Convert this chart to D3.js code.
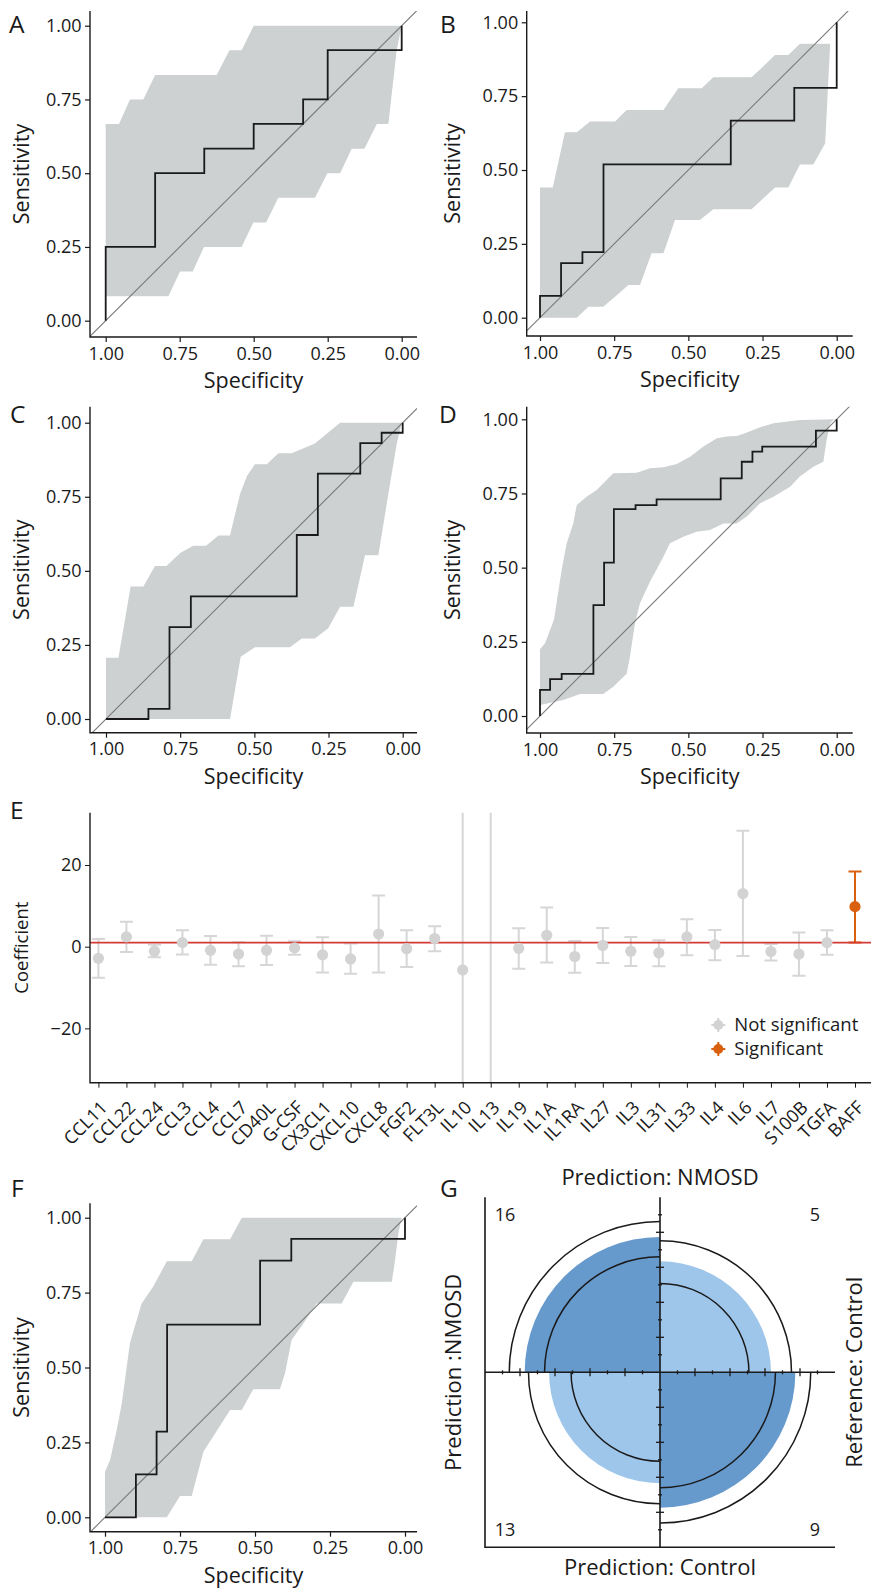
<!DOCTYPE html>
<html>
<head>
<meta charset="utf-8">
<script src="https://cdn.jsdelivr.net/npm/d3@7"></script>
<style>
  body { margin: 0; background: #fff; }
  svg { display: block; font-family: "Open Sans", sans-serif; }
</style>
</head>
<body>
<svg id="fig" width="871" height="1594"></svg>
<script>
// ---- ROC curves (specificity / sensitivity vertices) and 95% CI bands ----
const rocTicks = [1, 0.75, 0.5, 0.25, 0];

const aRocSpec = [1, 1, 0.833, 0.833, 0.667, 0.667, 0.5, 0.5, 0.333, 0.333, 0.25, 0.25, 0, 0];
const aRocSens = [0, 0.25, 0.25, 0.5, 0.5, 0.583, 0.583, 0.667, 0.667, 0.75, 0.75, 0.917, 0.917, 1];
const aUpSpec = [1, 0.955, 0.918, 0.873, 0.833, 0.625, 0.582, 0.541, 0.5, 0];
const aUpSens = [0.667, 0.667, 0.75, 0.75, 0.833, 0.833, 0.917, 0.917, 1, 1];
const aLoSpec = [1, 0.788, 0.749, 0.706, 0.668, 0.541, 0.501, 0.458, 0.417, 0.293, 0.251, 0.208, 0.169, 0.126, 0.084, 0.045, 0.017, 0];
const aLoSens = [0.083, 0.083, 0.167, 0.167, 0.25, 0.25, 0.333, 0.333, 0.417, 0.417, 0.5, 0.5, 0.583, 0.583, 0.667, 0.667, 0.917, 1];

const bRocSpec = [1, 1, 0.929, 0.929, 0.857, 0.857, 0.786, 0.786, 0.357, 0.357, 0.143, 0.143, 0, 0];
const bRocSens = [0, 0.074, 0.074, 0.185, 0.185, 0.222, 0.222, 0.519, 0.519, 0.667, 0.667, 0.778, 0.778, 1];
const bUpSpec = [1, 0.957, 0.916, 0.876, 0.831, 0.747, 0.708, 0.584, 0.534, 0.455, 0.416, 0.287, 0.247, 0.208, 0.163, 0.124, 0.022];
const bUpSens = [0.441, 0.441, 0.628, 0.628, 0.664, 0.664, 0.703, 0.703, 0.777, 0.777, 0.814, 0.814, 0.851, 0.889, 0.889, 0.927, 0.927];
const bLoSpec = [1, 0.876, 0.837, 0.787, 0.747, 0.702, 0.663, 0.624, 0.584, 0.545, 0.461, 0.416, 0.287, 0.247, 0.208, 0.163, 0.124, 0.079, 0.039, 0.022];
const bLoSens = [0, 0, 0.037, 0.037, 0.071, 0.111, 0.111, 0.218, 0.218, 0.331, 0.331, 0.367, 0.367, 0.404, 0.441, 0.441, 0.519, 0.519, 0.59, 0.927];

const cRocSpec = [1, 0.857, 0.857, 0.786, 0.786, 0.714, 0.714, 0.357, 0.357, 0.286, 0.286, 0.143, 0.143, 0.071, 0.071, 0, 0];
const cRocSens = [0, 0, 0.034, 0.034, 0.310, 0.310, 0.414, 0.414, 0.621, 0.621, 0.828, 0.828, 0.931, 0.931, 0.966, 0.966, 1];
const cUpSpec = [1, 0.958, 0.917, 0.874, 0.835, 0.796, 0.75, 0.706, 0.663, 0.621, 0.582, 0.57, 0.548, 0.525, 0.498, 0.458, 0.419, 0.374, 0.296, 0.211, 0];
const cUpSens = [0.207, 0.207, 0.447, 0.447, 0.516, 0.516, 0.56, 0.585, 0.585, 0.619, 0.619, 0.67, 0.76, 0.82, 0.86, 0.86, 0.897, 0.897, 0.93, 1, 1];
const cLoSpec = [1, 0.582, 0.546, 0.498, 0.38, 0.34, 0.296, 0.251, 0.211, 0.166, 0.127, 0.082, 0.05, 0.02, 0.003];
const cLoSens = [0, 0, 0.21, 0.242, 0.242, 0.272, 0.272, 0.306, 0.379, 0.379, 0.553, 0.553, 0.75, 0.93, 1];

const dRocSpec = [1, 1, 0.966, 0.966, 0.927, 0.927, 0.82, 0.82, 0.784, 0.784, 0.751, 0.751, 0.678, 0.678, 0.607, 0.607, 0.391, 0.391, 0.320, 0.320, 0.284, 0.284, 0.251, 0.251, 0.070, 0.070, 0, 0];
const dRocSens = [0, 0.088, 0.088, 0.124, 0.124, 0.142, 0.142, 0.374, 0.374, 0.517, 0.517, 0.697, 0.697, 0.711, 0.711, 0.730, 0.730, 0.801, 0.801, 0.857, 0.857, 0.891, 0.891, 0.908, 0.908, 0.962, 0.962, 1];
const dUpSpec = [1, 0.983, 0.953, 0.927, 0.91, 0.888, 0.876, 0.843, 0.809, 0.753, 0.674, 0.629, 0.584, 0.539, 0.494, 0.449, 0.404, 0.371, 0.337, 0.309, 0.258, 0.213, 0.124, 0];
const dUpSens = [0.225, 0.245, 0.324, 0.492, 0.582, 0.649, 0.711, 0.739, 0.762, 0.818, 0.82, 0.835, 0.838, 0.849, 0.874, 0.908, 0.936, 0.942, 0.944, 0.953, 0.973, 0.987, 0.998, 1];
const dLoSpec = [1, 0.921, 0.865, 0.787, 0.753, 0.708, 0.697, 0.68, 0.663, 0.629, 0.584, 0.562, 0.517, 0.472, 0.427, 0.382, 0.337, 0.303, 0.258, 0.213, 0.157, 0.124, 0.079, 0.045, 0.034, 0.022, 0.011];
const dLoSens = [0.037, 0.054, 0.074, 0.074, 0.099, 0.142, 0.2, 0.312, 0.38, 0.453, 0.537, 0.582, 0.604, 0.621, 0.627, 0.649, 0.649, 0.672, 0.717, 0.739, 0.773, 0.807, 0.84, 0.857, 0.93, 0.987, 0.998];

const fRocSpec = [1, 0.897, 0.897, 0.828, 0.828, 0.793, 0.793, 0.483, 0.483, 0.379, 0.379, 0, 0];
const fRocSens = [0, 0, 0.143, 0.143, 0.286, 0.286, 0.643, 0.643, 0.857, 0.857, 0.929, 0.929, 1];
const fUpSpec = [1, 0.983, 0.961, 0.944, 0.917, 0.878, 0.839, 0.794, 0.711, 0.672, 0.583, 0.544, 0];
const fUpSens = [0.152, 0.191, 0.291, 0.38, 0.581, 0.714, 0.77, 0.855, 0.855, 0.928, 0.928, 1, 1];
const fLoSpec = [1, 0.794, 0.75, 0.711, 0.672, 0.583, 0.544, 0.506, 0.417, 0.4, 0.378, 0.339, 0.294, 0.211, 0.172, 0.044, 0.033, 0.022, 0.011];
const fLoSens = [0, 0, 0.071, 0.071, 0.219, 0.358, 0.358, 0.427, 0.427, 0.481, 0.592, 0.647, 0.714, 0.714, 0.786, 0.786, 0.859, 0.948, 1];

// ---- E: coefficients with 95% CI ----
const cytokines = ["CCL11", "CCL22", "CCL24", "CCL3", "CCL4", "CCL7", "CD40L", "G-CSF", "CX3CL1", "CXCL10",
  "CXCL8", "FGF2", "FLT3L", "IL10", "IL13", "IL19", "IL1A", "IL1RA", "IL27", "IL3",
  "IL31", "IL33", "IL4", "IL6", "IL7", "S100B", "TGFA", "BAFF"];
const coef = [-2.85, 2.4, -1.1, 1.0, -0.9, -1.8, -0.9, -0.3, -2.0, -3.0,
  3.1, -0.5, 2.0, -5.7, null, -0.4, 2.8, -2.4, 0.3, -1.1,
  -1.5, 2.4, 0.5, 13.0, -1.2, -1.8, 1.0, 9.8];
const ciLow = [-7.6, -1.3, -2.6, -1.9, -4.4, -4.8, -4.5, -2.0, -6.3, -6.6,
  -6.3, -5.0, -1.1, -60, -60, -5.4, -3.9, -6.4, -4.0, -4.7,
  -4.8, -2.1, -3.3, -2.3, -3.4, -7.1, -2.0, 1.05];
const ciHigh = [1.9, 6.1, 0.5, 4.0, 2.6, 1.1, 2.7, 1.3, 2.3, 0.8,
  12.5, 4.0, 5.0, 60, 60, 4.5, 9.6, 1.4, 4.6, 2.4,
  1.6, 6.7, 4.1, 28.4, 0.65, 3.5, 4.0, 18.4];
const significant = cytokines.map(c => c === "BAFF");
const refLine = 1;
const coefTicks = [-20, 0, 20];

// ---- G: confusion table (fourfold plot) ----
const cellCounts = [16, 5, 13, 9];   // top-left, top-right, bottom-left, bottom-right
const confLevel = 0.95;

const ink = "#1a1a1a";
const bandFill = "#cdd1d1";
const greyPt = "#d3d3d3";
const orange = "#d9600f";
const svg = d3.select("#fig");

function panelLetter(t, x, y) {
  svg.append("text").attr("x", x).attr("y", y).text(t)
    .attr("font-size", 24.5).attr("fill", ink);
}

function rocPanel(p) {
  const sx = d3.scaleLinear().domain([1, 0]).range(p.xr);
  const sy = d3.scaleLinear().domain([0, 1]).range(p.yr);
  const [L, R, T, B] = p.box;
  const g = svg.append("g");
  svg.append("clipPath").attr("id", "clip" + p.id).append("rect")
    .attr("x", L).attr("y", T).attr("width", R - L).attr("height", B - T);
  const plot = g.append("g").attr("clip-path", `url(#clip${p.id})`);
  const line = d3.line().x(d => sx(d[0])).y(d => sy(d[1]));

  const up = p.upSpec.map((s, i) => [s, p.upSens[i]]);
  const lo = p.loSpec.map((s, i) => [s, p.loSens[i]]).reverse();
  plot.append("path").attr("d", line(up.concat(lo)) + "Z").attr("fill", bandFill);

  const s0 = sx.invert(L), s1 = sx.invert(R);
  plot.append("path").attr("d", line([[s0, 1 - s0], [s1, 1 - s1]]))
    .attr("fill", "none").attr("stroke", "#7a7a7a").attr("stroke-width", 1.1);

  plot.append("path").attr("d", line(p.rocSpec.map((s, i) => [s, p.rocSens[i]])))
    .attr("fill", "none").attr("stroke", ink).attr("stroke-width", 1.8)
    .attr("stroke-linejoin", "miter");

  const fmt = d3.format(".2f");
  const xa = g.append("g").attr("transform", `translate(0,${B})`)
    .call(d3.axisBottom(sx).tickValues(rocTicks).tickFormat(fmt).tickSize(5).tickPadding(5));
  const ya = g.append("g").attr("transform", `translate(${L},0)`)
    .call(d3.axisLeft(sy).tickValues(rocTicks).tickFormat(fmt).tickSize(5).tickPadding(3.5));
  [xa, ya].forEach(a => {
    a.attr("font-size", 18).attr("font-family", null).attr("color", ink);
    a.select(".domain").remove();
    a.selectAll(".tick line").attr("stroke-width", 1.2);
  });
  g.append("path").attr("d", `M${L},${T}V${B}H${R}`)
    .attr("fill", "none").attr("stroke", ink).attr("stroke-width", 1.4);

  g.append("text").attr("x", (L + R) / 2).attr("y", B + 51).attr("text-anchor", "middle")
    .attr("font-size", 21.5).attr("fill", ink).text("Specificity");
  g.append("text").attr("transform", `translate(${p.titleX},${(T + B) / 2}) rotate(-90)`)
    .attr("text-anchor", "middle").attr("font-size", 21.5).attr("fill", ink).text("Sensitivity");
}

rocPanel({ id: "A", xr: [105.7, 401.7], yr: [320.7, 25.7], box: [90, 417, 11, 337], titleX: 28.6,
  rocSpec: aRocSpec, rocSens: aRocSens, upSpec: aUpSpec, upSens: aUpSens, loSpec: aLoSpec, loSens: aLoSens });
rocPanel({ id: "B", xr: [540, 836.7], yr: [317.7, 22.3], box: [526.7, 852.7, 11, 336], titleX: 460.3,
  rocSpec: bRocSpec, rocSens: bRocSens, upSpec: bUpSpec, upSens: bUpSens, loSpec: bLoSpec, loSens: bLoSens });
rocPanel({ id: "C", xr: [106, 402.7], yr: [719, 422.7], box: [90, 417, 406.7, 732.7], titleX: 28.6,
  rocSpec: cRocSpec, rocSens: cRocSens, upSpec: cUpSpec, upSens: cUpSens, loSpec: cLoSpec, loSens: cLoSens });
rocPanel({ id: "D", xr: [540, 836.7], yr: [716, 419.3], box: [526.7, 852.7, 406.7, 733], titleX: 460.3,
  rocSpec: dRocSpec, rocSens: dRocSens, upSpec: dUpSpec, upSens: dUpSens, loSpec: dLoSpec, loSens: dLoSens });
rocPanel({ id: "F", xr: [105, 405], yr: [1517.3, 1217.7], box: [90, 417, 1203.3, 1531.7], titleX: 28.6,
  rocSpec: fRocSpec, rocSens: fRocSens, upSpec: fUpSpec, upSens: fUpSens, loSpec: fLoSpec, loSens: fLoSens });

// ---- Panel E ----
(function () {
  const L = 90, R = 871, T = 812.7, B = 1082.7;
  const ex = d3.scalePoint().domain(cytokines).range([90, 863.4]).padding(0.3);
  const ey = d3.scaleLinear().domain([-33.3, 32.8]).range([B, T]);
  const g = svg.append("g");
  svg.append("clipPath").attr("id", "clipE").append("rect")
    .attr("x", L).attr("y", T).attr("width", R - L).attr("height", B - T);
  const plot = g.append("g").attr("clip-path", "url(#clipE)");
  const rows = cytokines.map((c, i) => ({ c, v: coef[i], lo: ciLow[i], hi: ciHigh[i], sig: significant[i] }));
  const capW = 6.5;

  const bars = plot.selectAll(".eb").data(rows).join("g")
    .attr("stroke", d => d.sig ? orange : "#d6d6d6").attr("stroke-width", 2).attr("fill", "none");
  bars.append("line").attr("x1", d => ex(d.c)).attr("x2", d => ex(d.c))
    .attr("y1", d => ey(d.lo)).attr("y2", d => ey(d.hi));
  bars.append("line").attr("x1", d => ex(d.c) - capW).attr("x2", d => ex(d.c) + capW)
    .attr("y1", d => ey(d.lo)).attr("y2", d => ey(d.lo));
  bars.append("line").attr("x1", d => ex(d.c) - capW).attr("x2", d => ex(d.c) + capW)
    .attr("y1", d => ey(d.hi)).attr("y2", d => ey(d.hi));

  plot.append("line").attr("x1", L).attr("x2", R).attr("y1", ey(refLine)).attr("y2", ey(refLine))
    .attr("stroke", "#d43a34").attr("stroke-width", 1.6);

  plot.selectAll(".pt").data(rows.filter(d => d.v !== null)).join("circle")
    .attr("cx", d => ex(d.c)).attr("cy", d => ey(d.v)).attr("r", 5.6)
    .attr("fill", d => d.sig ? orange : greyPt);

  const ya = g.append("g").attr("transform", `translate(${L},0)`)
    .call(d3.axisLeft(ey).tickValues(coefTicks).tickSize(5).tickPadding(3.5));
  ya.attr("font-size", 18).attr("font-family", null).attr("color", ink);
  ya.select(".domain").remove();

  const xa = g.append("g").attr("transform", `translate(0,${B})`)
    .call(d3.axisBottom(ex).tickSize(5).tickFormat(""));
  xa.attr("color", ink);
  xa.select(".domain").remove();
  // top-right corner of each rotated label sits just below its tick
  g.selectAll(".xl").data(cytokines).join("text")
    .attr("transform", d => `translate(${ex(d) + 1},${B + 17}) rotate(-45)`)
    .attr("text-anchor", "end").attr("dy", "0.71em")
    .attr("font-size", 18).attr("fill", ink).text(d => d);

  g.append("path").attr("d", `M${L},${T}V${B}H${R}`)
    .attr("fill", "none").attr("stroke", ink).attr("stroke-width", 1.4);

  g.append("text").attr("transform", `translate(28,${(T + B) / 2}) rotate(-90)`)
    .attr("text-anchor", "middle").attr("font-size", 18.5).attr("fill", ink).text("Coefficient");

  // legend
  const legend = [{ label: "Not significant", col: greyPt, y: 1025 }, { label: "Significant", col: orange, y: 1049 }];
  const lg = g.selectAll(".lg").data(legend).join("g").attr("transform", d => `translate(718.3,${d.y})`);
  lg.append("line").attr("x1", -7).attr("x2", 7).attr("stroke", d => d.col).attr("stroke-width", 2);
  lg.append("line").attr("y1", -7).attr("y2", 7).attr("stroke", d => d.col).attr("stroke-width", 2);
  lg.append("circle").attr("r", 5).attr("fill", d => d.col);
  lg.append("text").attr("x", 16).attr("y", 5.5).attr("font-size", 18.5).attr("fill", ink).text(d => d.label);
})();

// ---- Panel G: fourfold plot ----
(function () {
  const cx = 660, cy = 1372.3, Rad = 175;
  const [a, b, c, d] = cellCounts;
  const or = (a * d) / (b * c);
  const se = Math.sqrt(1 / a + 1 / b + 1 / c + 1 / d);
  const z = 1.959964;
  // standardized cell share for a given odds ratio (equal margins)
  const share = o => Math.sqrt(o) / (1 + Math.sqrt(o));
  const rs = d3.scaleSqrt().domain([0, 1]).range([0, Rad]);
  const pMid = share(or), pLo = share(or * Math.exp(-z * se)), pHi = share(or * Math.exp(z * se));
  const quads = [
    { a0: -Math.PI / 2, a1: 0, diag: true },
    { a0: 0, a1: Math.PI / 2, diag: false },
    { a0: Math.PI, a1: 1.5 * Math.PI, diag: false },
    { a0: Math.PI / 2, a1: Math.PI, diag: true }
  ];
  const g = svg.append("g").attr("transform", `translate(${cx},${cy})`);
  const arc = d3.arc().innerRadius(0);
  quads.forEach(q => {
    const p = q.diag ? pMid : 1 - pMid;
    g.append("path").attr("d", arc({ outerRadius: rs(p), startAngle: q.a0, endAngle: q.a1 }))
      .attr("fill", q.diag ? "#6699CC" : "#9EC5EA");
    [pLo, pHi].forEach(pp => {
      const r = rs(q.diag ? pp : 1 - pp);
      const path = d3.path();
      path.moveTo(r * Math.sin(q.a0), -r * Math.cos(q.a0));
      path.arc(0, 0, r, q.a0 - Math.PI / 2, q.a1 - Math.PI / 2);
      g.append("path").attr("d", path.toString()).attr("fill", "none")
        .attr("stroke", ink).attr("stroke-width", 1.5);
    });
  });

  const u = d3.scaleLinear().domain([-1, 1]).range([-Rad, Rad]);
  g.append("path").attr("d", `M${u(-1)},0H${u(1)}M0,${u(-1)}V${u(1)}`)
    .attr("stroke", ink).attr("stroke-width", 1.6);
  g.append("path").attr("d", `M${u(-1)},${u(-1)}V${u(1)}H${u(1)}`)
    .attr("fill", "none").attr("stroke", ink).attr("stroke-width", 1.6);
  const ticks = d3.range(-9, 10).filter(k => k !== 0);
  ticks.forEach(k => {
    const len = Math.abs(k) % 2 === 0 ? 4 : 2;
    const t = u(k / 10);
    g.append("line").attr("x1", t).attr("x2", t).attr("y1", -len).attr("y2", len)
      .attr("stroke", ink).attr("stroke-width", 1.3);
    g.append("line").attr("y1", t).attr("y2", t).attr("x1", -len).attr("x2", len)
      .attr("stroke", ink).attr("stroke-width", 1.3);
  });

  const pos = [[-1, -1], [1, -1], [-1, 1], [1, 1]];
  cellCounts.forEach((n, i) => {
    g.append("text").attr("x", u(pos[i][0] * 0.885)).attr("y", u(pos[i][1] * 0.9))
      .attr("dy", "0.36em").attr("text-anchor", "middle").attr("font-size", 18).attr("fill", ink).text(n);
  });

  g.append("text").attr("x", 0).attr("y", -187).attr("text-anchor", "middle")
    .attr("font-size", 22).attr("fill", ink).text("Prediction: NMOSD");
  g.append("text").attr("x", 0).attr("y", 203).attr("text-anchor", "middle")
    .attr("font-size", 22).attr("fill", ink).text("Prediction: Control");
  g.append("text").attr("transform", "translate(-199,0) rotate(-90)").attr("text-anchor", "middle")
    .attr("font-size", 22).attr("fill", ink).text("Prediction :NMOSD");
  g.append("text").attr("transform", "translate(202,0) rotate(-90)").attr("text-anchor", "middle")
    .attr("font-size", 22).attr("fill", ink).text("Reference: Control");
})();

panelLetter("A", 9, 33.3);
panelLetter("B", 440, 33.3);
panelLetter("C", 10, 423.3);
panelLetter("D", 439, 423.3);
panelLetter("E", 10, 819.3);
panelLetter("F", 11, 1197.3);
panelLetter("G", 440, 1197.3);
</script>
</body>
</html>
